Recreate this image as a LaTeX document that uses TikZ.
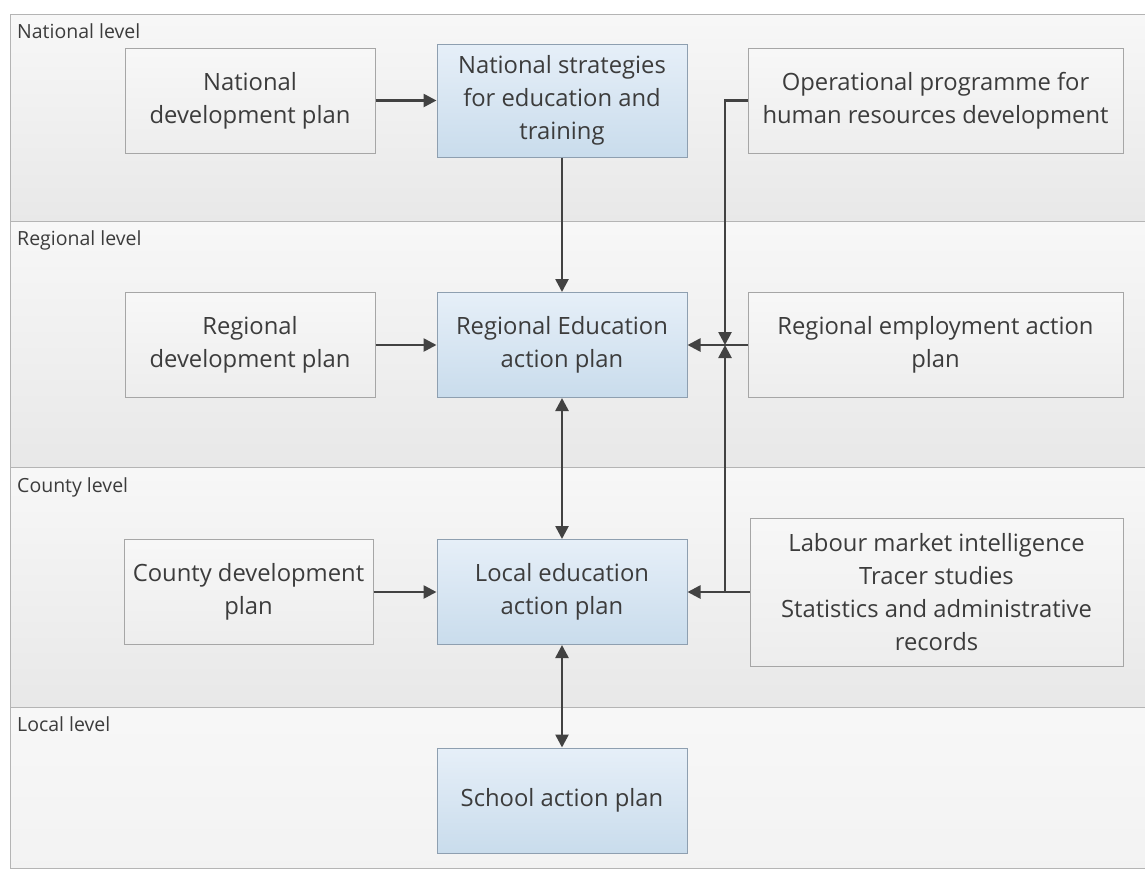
\documentclass[tikz,border=0pt]{standalone}
\usepackage{fontspec}
\setmainfont{Open Sans}
\usetikzlibrary{arrows.meta}
\definecolor{linegray}{HTML}{424242}
\definecolor{textgray}{HTML}{3C3C3C}
\definecolor{edgegray}{HTML}{A6A6A6}
\definecolor{bandedge}{HTML}{B4B4B4}
\definecolor{bluetop}{HTML}{E6EFF8}
\definecolor{bluebot}{HTML}{C9DCEC}
\definecolor{blueedge}{HTML}{8E9FB0}
\tikzset{
  plan/.style={rectangle,draw=edgegray,line width=1pt,top color=white!97!black,bottom color=white!93!black,
    minimum width=250pt,minimum height=105pt,inner sep=2pt,align=center,text=textgray,
    font=\fontsize{23.8}{33}\selectfont},
  keyplan/.style={plan,draw=blueedge,top color=bluetop,bottom color=bluebot},
  band/.style={draw=bandedge,line width=1pt,top color=white!97!black,bottom color=white!91!black},
  level/.style={anchor=base west,inner sep=0pt,text=textgray,font=\fontsize{19.5}{22}\selectfont},
  flow/.style={draw=linegray,line width=2.6pt},
  >={Triangle[length=13pt,width=13pt]}
}
\begin{document}
\begin{tikzpicture}[x=1pt,y=-1pt]
    \useasboundingbox[fill=white] (0,0) rectangle (1145,868);
    \path[band] (10,14) rectangle (1145,221);
    \path[band] (10,221) rectangle (1145,467);
    \path[band] (10,467) rectangle (1145,707);
    \path[band,bottom color=white!95!black] (10,707) rectangle (1145,868);
    \node[level] (lnat) 	at (17,38)  {National level};
    \node[level] (lreg) 	at (17,245) {Regional level};
    \node[level] (lcou) 	at (17,492) {County level};
    \node[level] (lloc) 	at (17,731) {Local level};

    \node[plan] (ndp) 	at (250,100.5) {National\\development plan};
    \node[keyplan,minimum height=113pt] (nset) 	at (562,100.5) {National strategies\\for education and\\training};
    \node[plan,minimum width=375pt] (op) 	at (935.5,100.5) {Operational programme for\\human resources development};

    \node[plan] (rdp) 	at (250,345) {Regional\\development plan};
    \node[keyplan] (reap) 	at (562,345) {Regional Education\\action plan};
    \node[plan,minimum width=375pt] (remp) 	at (935.5,345) {Regional employment action\\plan};

    \node[plan,minimum width=249pt] (cdp) 	at (248.5,592) {County development\\plan};
    \node[keyplan] (leap) 	at (562,592) {Local education\\action plan};
    \node[plan,minimum width=373pt,minimum height=148pt] (lmi) 	at (936.5,592)
{Labour market intelligence\\Tracer studies\\Statistics and administrative\\records};

    \node[keyplan] (sap) 	at (562,800.5) {School action plan};
    \coordinate (jn) at (725,345);

    \foreach \from/\to in
      {ndp/nset,rdp/reap,cdp/leap,nset/reap,remp/reap,lmi/leap}
    \draw[flow,->] (\from) -- (\to);
    \foreach \from/\to in {reap/leap,leap/sap}
    \draw[flow,<->] (\from) -- (\to);
    \draw[flow,->] (op.west) -| (jn);
    \draw[flow,->] (lmi.west) -| (jn);
  \end{tikzpicture}
\end{document}
